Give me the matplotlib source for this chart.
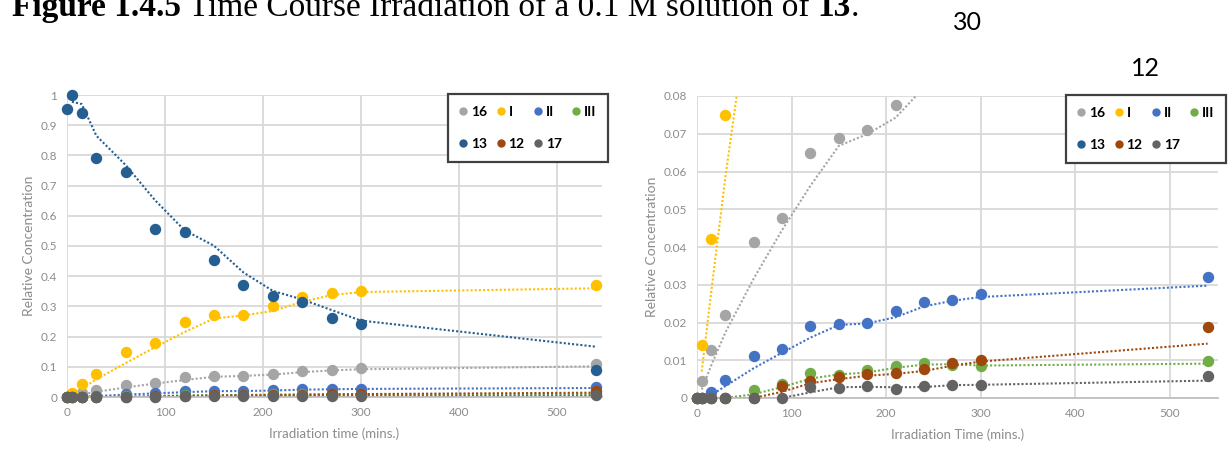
import matplotlib
matplotlib.use("Agg")
import matplotlib.pyplot as plt
from matplotlib.lines import Line2D
import numpy as np

# ---------------- data ----------------
times = [0, 5, 15, 30, 60, 90, 120, 150, 180, 210, 240, 270, 300, 540]

c16 = [0, 0.0045, 0.0127, 0.022, 0.0413, 0.0477, 0.0648, 0.0688, 0.071, 0.0775, 0.087, 0.089, 0.095, 0.108]
cI = [0, 0.014, 0.042, 0.075, 0.15, 0.18, 0.25, 0.27, 0.27, 0.30, 0.33, 0.345, 0.35, 0.37]
cII = [0, 0, 0.0015, 0.0048, 0.011, 0.013, 0.019, 0.0197, 0.0198, 0.023, 0.0255, 0.026, 0.0275, 0.032]
cIII = [0, 0, 0, 0, 0.002, 0.0038, 0.0065, 0.006, 0.0075, 0.0085, 0.0092, 0.0087, 0.0085, 0.0097]
c13 = [0.955, 1.0, 0.94, 0.79, 0.745, 0.557, 0.547, 0.455, 0.37, 0.333, 0.313, 0.263, 0.243, 0.09]
c12 = [0, 0, 0, 0, 0, 0.0033, 0.0045, 0.0055, 0.0063, 0.0065, 0.0078, 0.0093, 0.010, 0.0188]
c17 = [0, 0, 0, 0, 0, 0, 0.003, 0.0027, 0.0032, 0.0025, 0.0033, 0.0035, 0.0035, 0.0057]

series_names = ["16", "I", "II", "III", "13", "12", "17"]
series_values = [c16, cI, cII, cIII, c13, c12, c17]
series_colors = ["#A5A5A5", "#FFC000", "#4472C4", "#70AD47", "#255E91", "#9E480E", "#636363"]

left_yticks = [0, 0.1, 0.2, 0.3, 0.4, 0.5, 0.6, 0.7, 0.8, 0.9, 1]
left_yticklabels = ["0", "0.1", "0.2", "0.3", "0.4", "0.5", "0.6", "0.7", "0.8", "0.9", "1"]
right_yticks = [0, 0.01, 0.02, 0.03, 0.04, 0.05, 0.06, 0.07, 0.08]
right_yticklabels = ["0", "0.01", "0.02", "0.03", "0.04", "0.05", "0.06", "0.07", "0.08"]
xticks = [0, 100, 200, 300, 400, 500]

W, H = 1229, 455
fig = plt.figure(figsize=(W / 100, H / 100), dpi=100)
fig.patch.set_facecolor("white")

FONT = "Lato"
TICKC = "#8C8C8C"
GRIDC = "#D9D9D9"


def px_axes(x0, y0, x1, y1):
    return fig.add_axes([x0 / W, 1 - y1 / H, (x1 - x0) / W, (y1 - y0) / H])


def style(ax, ymax, yticks, yticklabels, xlabel, xmax):
    ax.set_xlim(0, xmax)
    ax.set_ylim(0, ymax)
    ax.set_xticks(xticks)
    ax.set_xticklabels([str(t) for t in xticks], fontsize=8.5, color=TICKC, family=FONT)
    ax.set_yticks(yticks)
    ax.set_yticklabels(yticklabels, fontsize=8.5, color=TICKC, family=FONT)
    ax.tick_params(length=0, pad=7)
    ax.grid(True, color=GRIDC, linewidth=1.3)
    ax.set_axisbelow(True)
    for s in ["top", "right", "left"]:
        ax.spines[s].set_visible(False)
    ax.spines["bottom"].set_color("#BFBFBF")
    ax.spines["bottom"].set_linewidth(1.3)
    ax.set_xlabel(xlabel, fontsize=9.5, color=TICKC, family=FONT, labelpad=7)
    ax.set_ylabel("Relative Concentration", fontsize=10, color=TICKC, family=FONT, labelpad=4)


def draw(ax, ymax):
    t = np.array(times, dtype=float)
    for name, vals, col in zip(series_names, series_values, series_colors):
        v = np.array(vals, dtype=float)
        # moving-average (period 2) trendline, as Excel draws it
        ma = (v[1:] + v[:-1]) / 2
        ax.plot(t[1:], ma, color=col, linestyle=(0, (1, 1)), linewidth=1.5, zorder=2)
        m = v <= ymax
        ax.plot(t[m], v[m], linestyle="none", marker="o", markersize=7.2,
                color=col, markeredgecolor=col, clip_on=False, zorder=3)


def legend(ax, x0, y0):
    handles = {n: Line2D([], [], linestyle="none", marker="o", markersize=5,
                         color=c, markeredgecolor=c)
               for n, c in zip(series_names, series_colors)}
    order = ["16", "13", "I", "12", "II", "17", "III"]
    leg = ax.legend([handles[n] for n in order], order, ncol=4,
                    loc="upper left", bbox_to_anchor=(x0 / W, 1 - y0 / H),
                    bbox_transform=fig.transFigure,
                    prop={"family": FONT, "weight": "bold", "size": 10},
                    handlelength=0.45, handletextpad=0.35, columnspacing=0.75,
                    labelspacing=1.45, borderpad=0.85, borderaxespad=0,
                    fancybox=False, framealpha=1, edgecolor="#404040")
    leg.get_frame().set_linewidth(1.6)
    leg.set_zorder(10)


# left chart
axL = px_axes(67, 95, 602, 397)
draw(axL, 1.0)
style(axL, 1.0, left_yticks, left_yticklabels, "Irradiation time (mins.)", 546)
legend(axL, 448, 94)

# right chart
axR = px_axes(697, 96, 1218, 398)
draw(axR, 0.08)
style(axR, 0.08, right_yticks, right_yticklabels, "Irradiation Time (mins.)", 551)
legend(axR, 1066, 95)

# caption, partially cut at the top edge (as in the reference)
fig.canvas.draw()
r = fig.canvas.get_renderer()
pieces = [("Figure 1.4.5", "bold"), (" Time Course Irradiation of a 0.1 M solution of ", "normal"),
          ("13", "bold"), (".", "normal")]
size = 24
x = 12
for txt, wt in pieces:
    tt = fig.text(x / W, 1 - 16 / H, txt, family="Liberation Serif", weight=wt,
                  fontsize=size, va="baseline", ha="left", color="black")
    bb = tt.get_window_extent(renderer=r)
    x += bb.width

fig.text(967 / W, 1 - 23 / H, "30", family=FONT, fontsize=18, ha="center", va="center", color="black")
fig.text(1145 / W, 1 - 69 / H, "12", family=FONT, fontsize=18, ha="center", va="center", color="black")

fig.savefig("out.png", dpi=100)
